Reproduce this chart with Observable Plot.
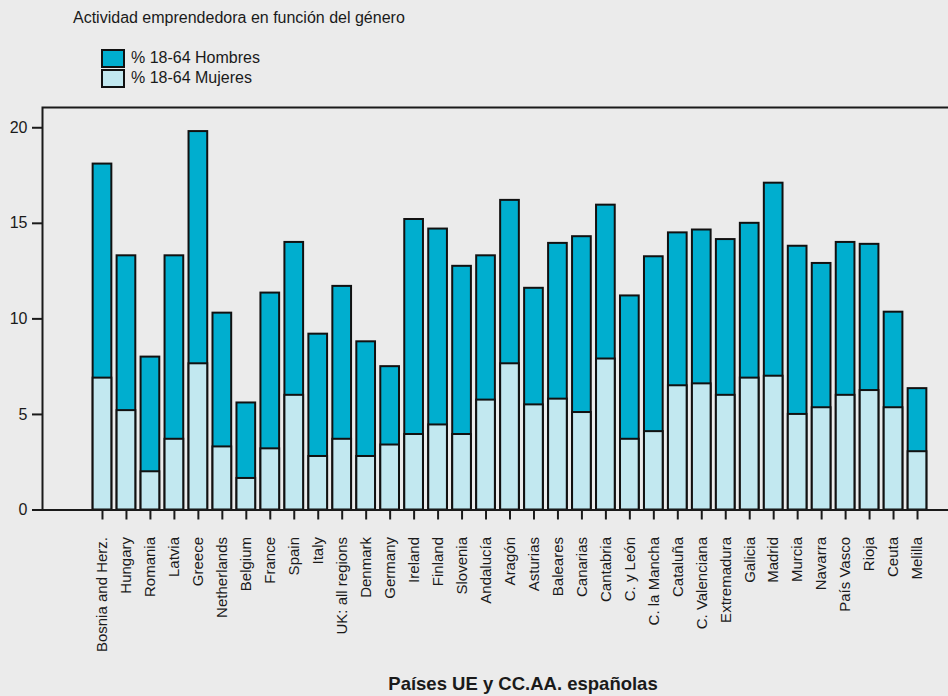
<!DOCTYPE html>
<html>
<head>
<meta charset="utf-8">
<script src="https://cdn.jsdelivr.net/npm/d3@7"></script>
<script src="https://cdn.jsdelivr.net/npm/@observablehq/plot@0.6"></script>
<style>
  html, body { margin: 0; padding: 0; background: #ebebeb; }
  body { width: 948px; height: 696px; overflow: hidden; font-family: "Liberation Sans", Arial, sans-serif; color: #1a1a1a; }
  #header { position: relative; height: 95px; }
  .t { position: absolute; white-space: nowrap; font-size: 16px; line-height: 16px; }
  .sw { position: absolute; width: 20px; height: 15px; border: 2px solid #111; }
</style>
</head>
<body>
<div id="header">
  <div class="t" id="title" style="left:73px; top:9.5px;"></div>
  <div class="sw" id="sw1" style="left:101px; top:49px;"></div>
  <div class="t" id="lg1" style="left:131px; top:49.5px;"></div>
  <div class="sw" id="sw2" style="left:101px; top:69px;"></div>
  <div class="t" id="lg2" style="left:131px; top:69.5px;"></div>
</div>
<div id="chart"></div>
<script>
const titleText = "Actividad emprendedora en función del género";
const seriesNames = ["% 18-64 Hombres", "% 18-64 Mujeres"];
const seriesColors = ["#00aecf", "#c2e8f0"];
const xTitle = "Países UE y CC.AA. españolas";
const yTicks = [0, 5, 10, 15, 20];

const categories = [
  "Bosnia and Herz.", "Hungary", "Romania", "Latvia", "Greece", "Netherlands", "Belgium",
  "France", "Spain", "Italy", "UK: all regions", "Denmark", "Germany", "Ireland", "Finland",
  "Slovenia", "Andalucía", "Aragón", "Asturias", "Baleares", "Canarias", "Cantabria",
  "C. y León", "C. la Mancha", "Cataluña", "C. Valenciana", "Extremadura", "Galicia",
  "Madrid", "Murcia", "Navarra", "País Vasco", "Rioja", "Ceuta", "Melilla"
];
const hombres = [
  18.1, 13.3, 8.0, 13.3, 19.8, 10.3, 5.6,
  11.35, 14.0, 9.2, 11.7, 8.8, 7.5, 15.2, 14.7,
  12.75, 13.3, 16.2, 11.6, 13.95, 14.3, 15.95,
  11.2, 13.25, 14.5, 14.65, 14.15, 15.0,
  17.1, 13.8, 12.9, 14.0, 13.9, 10.35, 6.35
];
const mujeres = [
  6.9, 5.2, 2.0, 3.7, 7.65, 3.3, 1.65,
  3.2, 6.0, 2.8, 3.7, 2.8, 3.4, 3.95, 4.45,
  3.95, 5.75, 7.65, 5.5, 5.8, 5.1, 7.9,
  3.7, 4.1, 6.5, 6.6, 6.0, 6.9,
  7.0, 5.0, 5.35, 6.0, 6.25, 5.35, 3.05
];

document.getElementById("title").textContent = titleText;
document.getElementById("lg1").textContent = seriesNames[0];
document.getElementById("lg2").textContent = seriesNames[1];
document.getElementById("sw1").style.background = seriesColors[0];
document.getElementById("sw2").style.background = seriesColors[1];

const data = categories.map((c, i) => ({pais: c, hombres: hombres[i], mujeres: mujeres[i]}));

const chart = Plot.plot({
  width: 948,
  height: 601,
  marginLeft: 42,
  marginRight: -3,
  marginTop: 12,
  marginBottom: 186.5,
  style: {background: "transparent", fontFamily: "'Liberation Sans', Arial, sans-serif", fontSize: "16px", color: "#1a1a1a"},
  x: {domain: categories, range: [90, 929], paddingInner: 0.22, paddingOuter: 0.11},
  y: {domain: [0, 21.06]},
  marks: [
    Plot.barY(data, {x: "pais", y: "hombres", fill: seriesColors[0], stroke: "#111", strokeWidth: 2}),
    Plot.barY(data, {x: "pais", y: "mujeres", fill: seriesColors[1], stroke: "#111", strokeWidth: 2}),
    Plot.frame({stroke: "#1a1a1a", strokeWidth: 2}),
    Plot.axisY({ticks: yTicks, tickSize: 10, tickPadding: 5, label: null, fontSize: 16, strokeWidth: 2, stroke: "#1a1a1a"}),
    Plot.axisX({tickRotate: -90, tickSize: 10, tickPadding: 17, label: null, fontSize: 15, strokeWidth: 2, stroke: "#1a1a1a"}),
    Plot.text([xTitle], {frameAnchor: "bottom", dx: 26, dy: 174.5, fontWeight: "bold", fontSize: 18.5, lineAnchor: "middle", fill: "#1a1a1a"})
  ]
});
document.getElementById("chart").appendChild(chart);
</script>
</body>
</html>
